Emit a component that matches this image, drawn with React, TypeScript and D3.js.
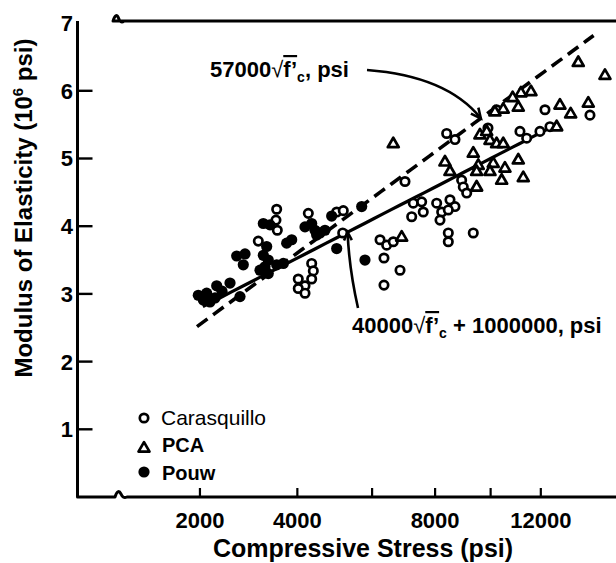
import React from 'react';
import * as d3 from 'd3';

const W = 616;
const H = 563;
const FONT = "'Liberation Sans', Arial, Helvetica, sans-serif";

const X_TICKS = [2000, 4000, 6000, 8000, 10000, 12000];
const X_LABELS = [2000, 4000, 8000, 12000];
const Y_TICKS = [1, 2, 3, 4, 5, 6];
const Y_LABELS = [1, 2, 3, 4, 5, 6, 7];

// [compressive stress f'c (psi), modulus of elasticity (10^6 psi)]
const CARASQUILLO: [number, number][] = [
  [3116, 3.78], [3518, 4.25], [3502, 4.09], [3532, 3.94], [4268, 4.19], [5002, 4.21],
  [5181, 4.23], [5165, 3.9], [4352, 3.45], [4393, 3.34], [4352, 3.22], [4022, 3.22],
  [4186, 3.12], [4022, 3.08], [4186, 3.01], [6236, 3.8], [6437, 3.72], [6640, 3.77],
  [6355, 3.53], [6355, 3.13], [6851, 3.35], [7008, 4.66], [8398, 5.37], [8690, 5.28],
  [10229, 5.72], [12174, 5.72], [14135, 5.64], [11147, 5.4], [11418, 5.3], [11964, 5.4],
  [7274, 4.34], [7549, 4.36], [7223, 4.14], [7602, 4.21], [8053, 4.34], [8225, 4.21],
  [8167, 4.09], [8514, 4.39], [8690, 4.29], [8455, 4.24], [8455, 3.9], [8455, 3.77],
  [9351, 3.9], [8928, 4.68], [8987, 4.58], [9111, 4.49], [9899, 5.45], [12384, 5.47],
];

const PCA: [number, number][] = [
  [6640, 5.22], [12810, 5.79], [13276, 5.66], [14059, 5.82], [13611, 6.42], [14821, 6.23],
  [11593, 5.99], [11187, 5.97], [10855, 5.9], [11080, 5.76], [10486, 5.73], [10165, 5.69],
  [9598, 5.35], [9850, 5.4], [9975, 5.27], [10229, 5.22], [10486, 5.22], [12670, 5.47],
  [8339, 4.95], [8514, 4.81], [9351, 5.08], [9535, 4.9], [9475, 4.81], [10100, 4.93],
  [9975, 4.81], [10551, 4.86], [10424, 4.68], [11080, 4.98], [11280, 4.72], [9475, 4.58],
  [6903, 3.84],
];

const POUW: [number, number][] = [
  [1972, 2.98], [2058, 2.91], [2174, 2.88], [2264, 2.94], [2116, 3.01], [2295, 3.12],
  [2544, 3.16], [2739, 2.96], [2674, 3.56], [2840, 3.59], [2805, 3.43], [3296, 3.7],
  [3223, 3.57], [3331, 3.5], [3259, 3.4], [3331, 3.3], [3518, 3.43], [3669, 3.45],
  [3747, 3.75], [3865, 3.8], [3152, 3.35], [3223, 4.04], [3369, 4.02], [4186, 3.99],
  [4352, 4.04], [4435, 3.94], [4563, 3.9], [4692, 3.94], [4478, 3.87], [4868, 4.15],
  [5002, 3.67], [5697, 4.29], [5792, 3.5], [2393, 3.04],
];

const ACI_RANGE: [number, number] = [1950, 14300];
const PROP_RANGE: [number, number] = [2050, 12700];
const ACI_ARROW_FC = 9630;
const PROP_ARROW_FC = 5300;

const aci = (fc: number) => 0.057 * Math.sqrt(fc);
const prop = (fc: number) => 0.04 * Math.sqrt(fc) + 1;

function arrowHead(tx: number, ty: number, fx: number, fy: number, len = 11, spread = 0.45) {
  const a = Math.atan2(ty - fy, tx - fx);
  const l1 = [tx - len * Math.cos(a - spread), ty - len * Math.sin(a - spread)];
  const l2 = [tx - len * Math.cos(a + spread), ty - len * Math.sin(a + spread)];
  return `M${l1[0]},${l1[1]}L${tx},${ty}L${l2[0]},${l2[1]}`;
}

export default function App() {
  const x = d3.scaleSqrt().domain([459.5, 15337]).range([77.5, 616]);
  const y = d3.scaleLinear().domain([0, 7]).range([497, 23.1]);

  const sample = (r: [number, number]) => d3.range(0, 41).map((i) => r[0] + ((r[1] - r[0]) * i) / 40);
  const curve = (f: (v: number) => number, r: [number, number]) =>
    d3.line<number>().x((fc) => x(fc)).y((fc) => y(f(fc)))(sample(r)) || '';

  const x0 = x.range()[0];
  const yTop = y(7) - 2;
  const yBot = y(0);

  const tri = (cx: number, cy: number) => `M${cx},${cy - 5.9}L${cx + 5.5},${cy + 3.6}L${cx - 5.5},${cy + 3.6}Z`;

  const t1x = x(ACI_ARROW_FC), t1y = y(aci(ACI_ARROW_FC));
  const c1x = 447, c1y = 76;
  const t2x = x(PROP_ARROW_FC), t2y = y(prop(PROP_ARROW_FC));
  const c2x = 349, c2y = 268;

  return (
    <svg width={W} height={H} style={{ position: 'absolute', left: 0, top: 0, display: 'block', background: '#fff' }} fontFamily={FONT}>
      <rect width={W} height={H} fill="#fff" />
      <path
        d={`M${W},${yTop}H113Q116,12 118.5,18Q120.5,24 124,${yTop}M${x0},${yTop}V${yBot}H115Q118,488 121,494Q123,499 127,${yBot}H${W}`}
        fill="none" stroke="#000" strokeWidth={3} strokeLinejoin="round"
      />
      {X_TICKS.map((t) => (
        <line key={t} x1={x(t)} x2={x(t)} y1={yBot} y2={yBot - 9} stroke="#000" strokeWidth={2.2} />
      ))}
      {X_LABELS.map((t) => (
        <text key={t} x={x(t)} y={528} textAnchor="middle" fontSize={22} fontWeight="bold">{t}</text>
      ))}
      {Y_TICKS.map((t) => (
        <line key={t} x1={x0} x2={x0 + 15} y1={y(t)} y2={y(t)} stroke="#000" strokeWidth={2.4} />
      ))}
      {Y_LABELS.map((t) => (
        <text key={t} x={73} y={y(t)} dy="0.36em" textAnchor="end" fontSize={22} fontWeight="bold">{t}</text>
      ))}
      <text x={363} y={557} textAnchor="middle" fontSize={25} fontWeight="bold">Compressive Stress (psi)</text>
      <text transform="translate(32,208) rotate(-90)" textAnchor="middle" fontSize={24} fontWeight="bold">
        Modulus of Elasticity (10<tspan dy={-9} fontSize={15}>6</tspan><tspan dy={9}> psi)</tspan>
      </text>

      <path d={curve(aci, ACI_RANGE)} fill="none" stroke="#000" strokeWidth={3.6} strokeDasharray="13 7" />
      <path d={curve(prop, PROP_RANGE)} fill="none" stroke="#000" strokeWidth={3.2} />

      {CARASQUILLO.map((d, i) => (
        <circle key={'c' + i} cx={x(d[0])} cy={y(d[1])} r={4.2} fill="#fff" stroke="#000" strokeWidth={2.7} />
      ))}
      {PCA.map((d, i) => (
        <path key={'p' + i} d={tri(x(d[0]), y(d[1]))} fill="#fff" stroke="#000" strokeWidth={2.7} strokeLinejoin="round" />
      ))}
      {POUW.map((d, i) => (
        <circle key={'w' + i} cx={x(d[0])} cy={y(d[1])} r={5.6} fill="#000" />
      ))}

      <path d={`M367,70Q${c1x},${c1y} ${t1x},${t1y}`} fill="none" stroke="#000" strokeWidth={2.6} />
      <path d={arrowHead(t1x, t1y, c1x, c1y)} fill="none" stroke="#000" strokeWidth={2.6} />
      <path d={`M358,308Q${c2x},${c2y} ${t2x},${t2y}`} fill="none" stroke="#000" strokeWidth={2.6} />
      <path d={arrowHead(t2x, t2y, c2x, c2y, 9)} fill="none" stroke="#000" strokeWidth={2.6} />

      <text x={210} y={77} fontSize={22} fontWeight="bold">
        57000<tspan fontWeight="normal">√</tspan><tspan textDecoration="overline">f’</tspan>
        <tspan fontSize={14} dy={5}>c</tspan><tspan dy={-5}>, psi</tspan>
      </text>
      <text x={352} y={333} fontSize={22} fontWeight="bold">
        40000<tspan fontWeight="normal">√</tspan><tspan textDecoration="overline">f’</tspan>
        <tspan fontSize={14} dy={5}>c</tspan><tspan dy={-5}> + 1000000, psi</tspan>
      </text>

      <circle cx={144} cy={418} r={4.2} fill="#fff" stroke="#000" strokeWidth={2.7} />
      <text x={161} y={425} fontSize={21}>Carasquillo</text>
      <path d={tri(144, 448)} fill="#fff" stroke="#000" strokeWidth={2.7} strokeLinejoin="round" />
      <text x={162} y={452} fontSize={20} fontWeight="bold">PCA</text>
      <circle cx={144} cy={472} r={5.6} fill="#000" />
      <text x={162} y={480} fontSize={20} fontWeight="bold">Pouw</text>
    </svg>
  );
}
